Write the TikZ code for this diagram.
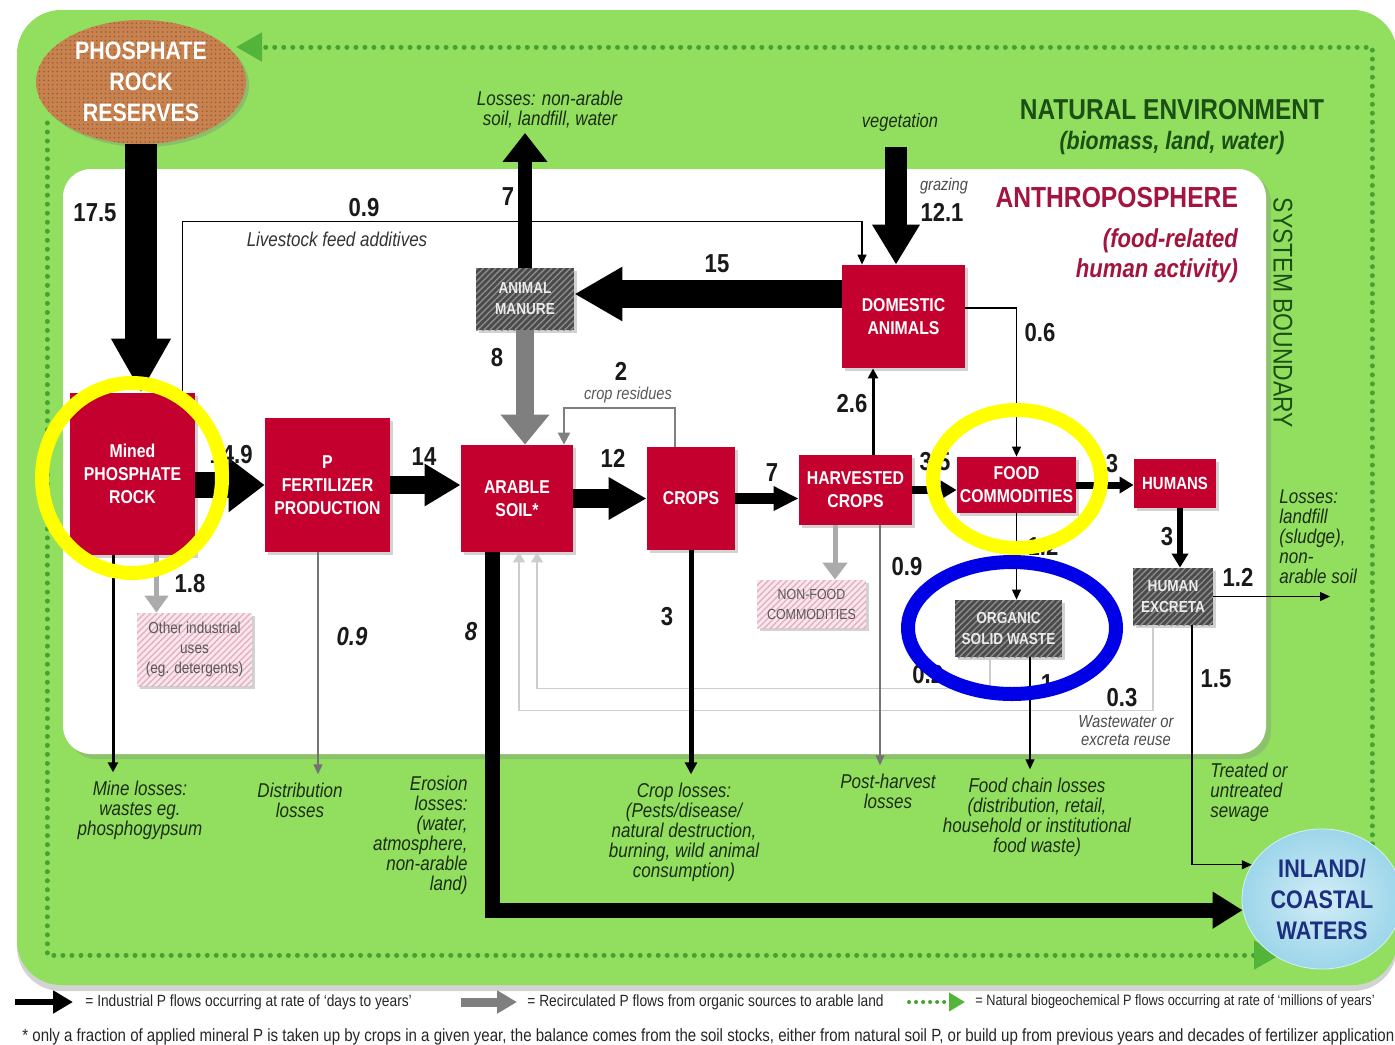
\documentclass[tikz,border=0pt]{standalone}
\usepackage{fontspec}
\setmainfont{Liberation Sans}[FakeStretch=0.85]
\usepackage{tikz}
\usetikzlibrary{positioning,arrows.meta,calc,shapes.geometric,shadows,patterns.meta}
\definecolor{envgreen}{HTML}{92DF60}
\definecolor{dotgreen}{HTML}{46A232}
\definecolor{tipgreen}{HTML}{52B53A}
\definecolor{boxred}{HTML}{C4002E}
\definecolor{hatchgray}{HTML}{4A4A4A}
\definecolor{stripegray}{HTML}{8C8C8C}
\definecolor{pinkbg}{HTML}{F8E8EE}
\definecolor{pinkstripe}{HTML}{E5AFC0}
\definecolor{recgray}{HTML}{7F7F7F}
\definecolor{lightflow}{HTML}{ABABAB}
\definecolor{linegray}{HTML}{CDCDCD}
\definecolor{cork}{HTML}{C7824F}
\definecolor{corkdark}{HTML}{9C5C32}
\definecolor{water}{HTML}{9CD6EA}
\definecolor{navy}{HTML}{1C2F80}
\definecolor{anthro}{HTML}{A3143F}
\definecolor{natgreen}{HTML}{1B4F14}
\definecolor{losstext}{HTML}{1D2D14}
\definecolor{ringyellow}{HTML}{FFFF00}
\definecolor{ringblue}{HTML}{0000E6}

\begin{document}
\begin{tikzpicture}[x=0.5pt,y=-0.5pt,
    pbox/.style={inner sep=0pt, align=center,
      drop shadow={shadow xshift=1.5pt,shadow yshift=-1.5pt,opacity=.35}},
    redbox/.style={pbox, fill=boxred, text=white,
      font=\bfseries\fontsize{9.3}{11.5}\selectfont},
    grayhatch/.style={pbox, fill=hatchgray, text=white!92!black,
      postaction={pattern={Lines[angle=45,distance=2.2pt,line width=.7pt]},pattern color=stripegray},
      font=\bfseries\fontsize{8}{10.5}\selectfont},
    pinkhatch/.style={pbox, fill=pinkbg, text=black!65,
      postaction={pattern={Lines[angle=45,distance=2.2pt,line width=.7pt]},pattern color=pinkstripe},
      font=\fontsize{7.3}{10}\selectfont},
    flownum/.style={inner sep=0pt, text=black!90, font=\bfseries\fontsize{13}{13}\selectfont},
    iflownum/.style={flownum, font=\bfseries\itshape\fontsize{13}{13}\selectfont},
    lossnote/.style={inner sep=0pt, align=center, text=losstext,
      font=\itshape\fontsize{10}{10}\selectfont},
    legtext/.style={inner sep=0pt, text=black!85, font=\fontsize{8.1}{9}\selectfont},
    pflow/.style n args={3}{draw=black, line width=#1, -{Triangle[length=#2,width=#3]}},
    gflow/.style n args={3}{draw=recgray, line width=#1, -{Triangle[length=#2,width=#3]}},
    slimarrow/.style={draw=black, line width=.6pt, -{Triangle[length=5pt,width=4.5pt]}},
    grayline/.style={draw=black!55, line width=.7pt, -{Triangle[length=5pt,width=4.5pt]}},
    retline/.style={draw=linegray, line width=.8pt, -{Triangle[length=5pt,width=6pt]}},
    resarrow/.style={draw=recgray, line width=1pt, -{Triangle[length=6pt,width=6pt]}},
    natdots/.style={draw=dotgreen, line width=2.5pt, line cap=round, dash pattern=on .01pt off 4.5pt}
  ]
  \useasboundingbox (0,0) rectangle (1395,1044);

  % Natural environment
  \path[fill=envgreen, rounded corners=22pt,
    drop shadow={shadow xshift=0pt,shadow yshift=-3pt,opacity=.35}] (17,10) rectangle (1397,985);
  \draw[natdots, -{Triangle[length=13pt,width=14pt,color=tipgreen]}] (47,123) |- (1280,955);
  \draw[natdots, -{Triangle[length=13pt,width=14pt,color=tipgreen]}] (1372,880) |- (236,47);
  \node[text=natgreen, font=\bfseries\fontsize{14.4}{14.4}\selectfont] (natenv) at (1172,110) {NATURAL ENVIRONMENT};
  \node[text=natgreen, font=\bfseries\itshape\fontsize{12.6}{12.6}\selectfont] (natsub) at (1172,143) {(biomass, land, water)};

  % Anthroposphere
  \path[fill=white, rounded corners=14pt,
    drop shadow={shadow xshift=2.5pt,shadow yshift=-2.5pt,opacity=.3}] (63,169) rectangle (1266,754);
  \node[anchor=east, text=anthro, font=\bfseries\fontsize{14.5}{14.5}\selectfont] (anthrop) at (1245,198) {ANTHROPOSPHERE};
  \node[anchor=north east, align=right, text=anthro, font=\bfseries\itshape\fontsize{13}{15}\selectfont] (anthsub) at (1245,222) {(food-related\\human activity)};
  \node[rotate=-90, text=natgreen, font=\fontsize{13.5}{13.5}\selectfont] (sysbound) at (1283,313) {SYSTEM BOUNDARY};

  % Stocks
  \node[ellipse, fill=cork, minimum width=105pt, minimum height=62pt, inner sep=0pt,
    postaction={pattern={Dots[distance=2.2pt,radius=.45pt]},pattern color=corkdark},
    drop shadow={shadow xshift=1.5pt,shadow yshift=-1.5pt,opacity=.35},
    text=white, align=center, font=\bfseries\fontsize{12.6}{15.5}\selectfont] (reserves) at (141,82) {PHOSPHATE\\ROCK\\RESERVES};
  \node[ellipse, minimum width=80pt, minimum height=70pt, inner sep=0pt,
    shading=radial, inner color=water!45!white, outer color=water, draw=white!60!water,
    text=navy, align=center, font=\bfseries\fontsize{12.7}{15.5}\selectfont] (waters) at (1322,899) {INLAND/\\COASTAL\\WATERS};

  % Processes
  \node[redbox, minimum width=62.5pt, minimum height=81pt] (mined) at (132.5,474) {Mined\\PHOSPHATE\\ROCK};
  \node[redbox, minimum width=62.5pt, minimum height=67pt] (fert) at (327.5,485) {P\\FERTILIZER\\PRODUCTION};
  \node[redbox, minimum width=56pt, minimum height=53.5pt] (soil) at (517,498.5) {ARABLE\\SOIL*};
  \node[redbox, minimum width=44pt, minimum height=51.5pt] (crops) at (691,498.5) {CROPS};
  \node[redbox, minimum width=56.5pt, minimum height=35pt] (harvest) at (855.5,490) {HARVESTED\\CROPS};
  \node[redbox, minimum width=59.5pt, minimum height=28pt] (food) at (1016.5,485) {FOOD\\COMMODITIES};
  \node[redbox, minimum width=41pt, minimum height=24.5pt, font=\bfseries\fontsize{8.8}{10}\selectfont] (humans) at (1175,483.5) {HUMANS};
  \node[redbox, minimum width=61.5pt, minimum height=51.5pt] (animals) at (903.5,316.5) {DOMESTIC\\ANIMALS};
  \node[grayhatch, minimum width=49pt, minimum height=31pt] (manure) at (525,299) {ANIMAL\\MANURE};
  \node[grayhatch, minimum width=40pt, minimum height=28.5pt] (excreta) at (1173,596.5) {HUMAN\\EXCRETA};
  \node[grayhatch, minimum width=53.5pt, minimum height=28.5pt] (waste) at (1008.5,628.5) {ORGANIC\\SOLID WASTE};
  \node[pinkhatch, minimum width=57.5pt, minimum height=36.5pt, font=\fontsize{8}{10}\selectfont] (other) at (194.5,649.5) {Other industrial\\uses\\(eg. detergents)};
  \node[pinkhatch, minimum width=54.5pt, minimum height=24pt] (nonfood) at (811.5,604) {NON-FOOD\\COMMODITIES};

  % Loss labels
  \node[lossnote, font=\itshape\fontsize{10}{10}\selectfont] (losslbl) at (550,110) {Losses: non-arable\\soil, landfill, water};
  \node[lossnote, font=\itshape\fontsize{9.7}{10}\selectfont] (veglbl) at (900,122) {vegetation};
  \node[lossnote] (minelbl) at (140,810) {Mine losses:\\wastes eg.\\phosphogypsum};
  \node[lossnote] (distlbl) at (300,800) {Distribution\\losses};
  \node[lossnote, anchor=north east, align=right] (erolbl) at (468,776) {Erosion\\losses:\\(water,\\atmosphere,\\non-arable\\land)};
  \node[lossnote] (croplbl) at (684,832) {Crop losses:\\(Pests/disease/\\natural destruction,\\burning, wild animal\\consumption)};
  \node[lossnote] (postlbl) at (888,791) {Post-harvest\\losses};
  \node[lossnote] (chainlbl) at (1037,817) {Food chain losses\\(distribution, retail,\\household or institutional\\food waste)};
  \node[lossnote, anchor=north west, align=left] (sewlbl) at (1210,763) {Treated or\\untreated\\sewage};
  \node[lossnote, anchor=north west, align=left] (sludge) at (1279,489) {Losses:\\landfill\\(sludge),\\non-\\arable soil};
  \coordinate (lossend) at (1330,598);

  % Other texts
  \node[inner sep=0pt, text=black!80, font=\itshape\fontsize{10}{10}\selectfont] (feedlbl) at (337,239) {Livestock feed additives};
  \node[inner sep=0pt, text=black!65, font=\itshape\fontsize{8.6}{10}\selectfont] (reslbl) at (628,395) {crop residues};
  \node[inner sep=0pt, text=black!70, font=\itshape\fontsize{8.6}{10}\selectfont] (grazlbl) at (944,186) {grazing};
  \node[inner sep=0pt, align=center, text=black!70, font=\itshape\fontsize{8.7}{9}\selectfont] (wwlbl) at (1126,731) {Wastewater or\\excreta reuse};

  % Thin flows
  \coordinate (feed0) at ([xshift=25pt]mined.north);
  \coordinate (feed1) at ([xshift=-20.75pt]animals.north);
  \draw[slimarrow] (feed0) -- ++(0,-171) -| (feed1);
  \coordinate (dom0) at ([yshift=4.25pt]animals.east);
  \draw[slimarrow] (dom0) -| (food.north);
  \coordinate (res0) at ([xshift=-8pt]crops.north);
  \coordinate (res1) at ([xshift=23.5pt]soil.north);
  \draw[resarrow] (res0) -- ++(0,-39) -| (res1);
  \coordinate (ret0) at ([xshift=-9.25pt]waste.south);
  \coordinate (ret1) at ([xshift=10pt]soil.south);
  \draw[retline] (ret0) -- ++(0,31) -| (ret1);
  \coordinate (ret2) at ([xshift=-10pt]excreta.south);
  \coordinate (ret3) at ([xshift=1pt]soil.south);
  \draw[retline] (ret2) -- ++(0,85) -| (ret3);
  \coordinate (post0) at ([xshift=12.25pt]harvest.south);
  \draw[grayline, shorten >=4pt] (post0) -- (post0 |- postlbl.north);
  \draw[slimarrow] (food.south) -- (food.south |- waste.north);
  \coordinate (chain0) at ([xshift=10.75pt]waste.south);
  \draw[slimarrow, shorten >=4pt] (chain0) -- (chain0 |- chainlbl.north);
  \draw[slimarrow] (excreta.east) -- (excreta.east -| lossend);
  \coordinate (sew0) at ([xshift=9.5pt]excreta.south);
  \draw[slimarrow] (sew0) |- (waters.154);
  \coordinate (dist0) at ([xshift=-4.75pt]fert.south);
  \draw[grayline, shorten >=4pt] (dist0) -- (dist0 |- distlbl.north);
  \coordinate (mine0) at ([xshift=-9.75pt]mined.south);
  \draw[pflow={1.5pt}{5pt}{5pt}, shorten >=4pt] (mine0) -- (mine0 |- minelbl.north);
  \coordinate (oth0) at ([xshift=12pt]mined.south);
  \draw[draw=lightflow, line width=2.5pt, -{Triangle[length=8.5pt,width=11.5pt]}] (oth0) -- (oth0 |- other.north);
  \coordinate (nf0) at ([xshift=-10.25pt]harvest.south);
  \draw[draw=lightflow, line width=2.5pt, -{Triangle[length=8.5pt,width=12pt]}] (nf0) -- (nf0 |- nonfood.north);
  \coordinate (h0) at ([xshift=8.75pt]harvest.north);
  \draw[pflow={1.5pt}{5pt}{5pt}] (h0) -- (h0 |- animals.south);
  \draw[pflow={2.5pt}{6pt}{6pt}, shorten >=4pt] (crops.south) -- (crops.south |- croplbl.north);

  % Main flows
  \draw[pflow={16pt}{27pt}{28pt}] (reserves.south) -- (reserves.south |- mined.north);
  \draw[pflow={13pt}{18pt}{26pt}] (mined.east |- fert) -- (fert.west);
  \draw[pflow={9pt}{18pt}{20pt}] (fert.east) -- (fert.east -| soil.west);
  \draw[pflow={9.5pt}{19pt}{20pt}] (soil.east) -- (crops.west);
  \draw[pflow={5.5pt}{12.5pt}{11.5pt}] (crops.east) -- (crops.east -| harvest.west);
  \draw[pflow={4pt}{8pt}{9pt}] (harvest.east) -- (harvest.east -| food.west);
  \draw[pflow={3.5pt}{7pt}{8pt}] (food.east) -- (food.east -| humans.west);
  \coordinate (hum0) at ([xshift=2.5pt]humans.south);
  \draw[pflow={3pt}{7pt}{8pt}] (hum0) -- (hum0 |- excreta.north);
  \coordinate (m15) at ([yshift=11.25pt]animals.west);
  \draw[pflow={14pt}{24pt}{25.5pt}] (m15) -- (m15 -| manure.east);
  \draw[pflow={7pt}{14.5pt}{21.5pt}, shorten >=2pt] (manure.north) -- (manure.north |- losslbl.south);
  \draw[gflow={9pt}{15pt}{23.5pt}] (manure.south) -- (manure.south |- soil.north);
  \coordinate (veg0) at ([xshift=-2pt]veglbl.south);
  \draw[pflow={11pt}{20pt}{22.5pt}, shorten <=8pt] (veg0) -- (veg0 |- animals.north);
  \coordinate (ero0) at ([xshift=-12.5pt]soil.south);
  \draw[pflow={7.5pt}{15pt}{17.5pt}, line join=miter] (ero0) |- (waters.188);

  % Flow values
  \node[flownum] (v175) at (95,213) {17.5};
  \node[flownum] (v09a) at (364,208) {0.9};
  \node[flownum] (v7a) at (508,197) {7};
  \node[flownum] (v121) at (942,212) {12.1};
  \node[flownum] (v15) at (717,264) {15};
  \node[flownum] (v06) at (1040,333) {0.6};
  \node[flownum] (v8a) at (497,358) {8};
  \node[flownum] (v2) at (621,371) {2};
  \node[flownum] (v26) at (852,404) {2.6};
  \node[flownum, anchor=east] (v149) at (253,455) {14.9};
  \node[flownum] (v14) at (424,457) {14};
  \node[flownum] (v12) at (613,458) {12};
  \node[flownum] (v7b) at (772,473) {7};
  \node[flownum] (v35) at (935,462) {3.5};
  \node[flownum] (v3a) at (1112,464) {3};
  \node[flownum] (v3b) at (1167,537) {3};
  \node[flownum] (v12b) at (1238,577) {1.2};
  \node[flownum] (v18) at (190,584) {1.8};
  \node[flownum] (v09b) at (907,567) {0.9};
  \node[flownum] (v12c) at (1043,546) {1.2};
  \node[flownum, anchor=west] (v02) at (912,675) {0.2};
  \node[flownum] (v1) at (1047,684) {1};
  \node[flownum] (v03) at (1122,698) {0.3};
  \node[flownum] (v15b) at (1216,679) {1.5};
  \node[iflownum] (v09c) at (352,637) {0.9};
  \node[iflownum] (v8b) at (471,632) {8};
  \node[flownum] (v3c) at (667,617) {3};

  % Legend
  \node[legtext, anchor=west] (legA) at (85,1002) {= Industrial P flows occurring at rate of `days to years'};
  \draw[pflow={3pt}{10pt}{11pt}] ([xshift=-35pt]legA.west) -- ([xshift=-6pt]legA.west);
  \node[legtext, anchor=west] (legB) at (527,1002) {= Recirculated P flows from organic sources to arable land};
  \draw[gflow={4.5pt}{10pt}{11pt}] ([xshift=-33pt]legB.west) -- ([xshift=-5pt]legB.west);
  \node[legtext, anchor=west, font=\fontsize{7.5}{9}\selectfont] (legC) at (975,1002) {= Natural biogeochemical P flows occurring at rate of `millions of years'};
  \draw[natdots, line width=2pt, dash pattern=on .01pt off 3.5pt, -{Triangle[length=8pt,width=9pt,color=tipgreen]}] ([xshift=-33pt]legC.west) -- ([xshift=-5pt]legC.west);
  \node[legtext, anchor=west, font=\fontsize{8.85}{9}\selectfont] (foot) at (22,1037) {* only a fraction of applied mineral P is taken up by crops in a given year, the balance comes from the soil stocks, either from natural soil P, or build up from previous years and decades of fertilizer application};

  % Highlight rings
  \draw[ringyellow, line width=7pt] (132,478) ellipse [x radius=45pt, y radius=47.5pt];
  \draw[ringyellow, line width=7pt] (1017,479) ellipse [x radius=42pt, y radius=34.5pt];
  \draw[ringblue, line width=7pt] (1012,628) ellipse [x radius=52pt, y radius=33pt];
\end{tikzpicture}
\end{document}
